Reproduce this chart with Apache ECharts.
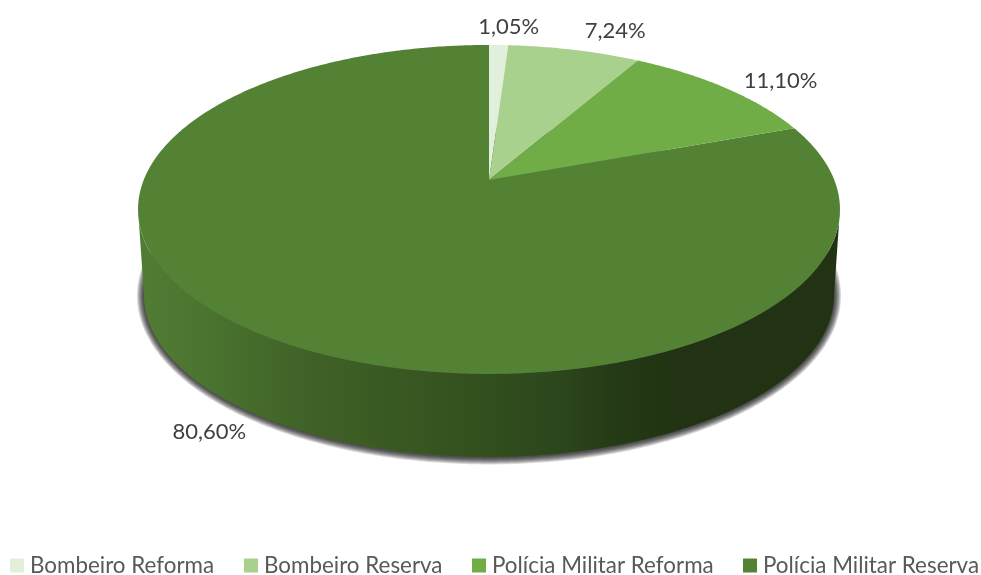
<!DOCTYPE html>
<html><head><meta charset="utf-8">
<style>html,body{margin:0;padding:0;background:#fff}#c{width:981px;height:575px}</style>
<script src="https://cdn.jsdelivr.net/npm/echarts@6/dist/echarts.min.js"></script>
</head><body><div id="c"></div>
<script>
const categories = ['Bombeiro Reforma','Bombeiro Reserva','Polícia Militar Reforma','Polícia Militar Reserva'];
const values = [1.05, 7.24, 11.10, 80.60];
const colors = ['#e2efda','#a9d18e','#70ad47','#548235'];
const legendLefts = [10, 244, 472, 743];
const labelOffsets = [[10,-18],[41,-19],[55,-7],[-48,99]];

// perspective disc: apex, half axes, foreshortening, extrusion
const apexX = 489, apexY = 180, axisU = 345.3, axisV = 159.2, persp = 0.179;
const depthY = 86.3, depthScale = 0.983;
const shadowSteps = [7,6,5,4,3,2,1], shadowMidY = 295.3, shadowRx = 345, shadowRy = 161, shadowDrop = 0.5;
const total = values.reduce((a,b)=>a+b,0);

function project(theta, lower) {
  const u = Math.sin(theta), v = -Math.cos(theta), w = 1 - persp*v;
  const s = lower ? depthScale : 1;
  return [apexX + s*axisU*u/w, apexY + (lower?depthY:0) + s*axisV*v/w];
}
function arc(t0, t1, lower) {
  const n = Math.max(2, Math.ceil(Math.abs(t1-t0)/0.01)), pts = [];
  for (let i=0;i<=n;i++) pts.push(project(t0+(t1-t0)*i/n, lower));
  return pts;
}
const sideGradient = {type:'linear',x:0,y:0,x2:1,y2:0,colorStops:[
  {offset:0,color:'#527c34'},{offset:0.08,color:'#4c7630'},{offset:0.14,color:'#476e2d'},{offset:0.25,color:'#3f6126'},
  {offset:0.5,color:'#324f1e'},{offset:0.6,color:'#2c461c'},{offset:0.69,color:'#243916'},{offset:0.77,color:'#213312'},{offset:1,color:'#213312'}]};
const visFrom = Math.acos(-persp), visTo = 2*Math.PI - visFrom;

function renderSlice(params, api) {
  const startPct = api.value(0), val = api.value(1), i = params.seriesIndex;
  const t0 = startPct/total*2*Math.PI, t1 = (startPct+val)/total*2*Math.PI;
  const children = [];
  const a = Math.max(t0, visFrom), b = Math.min(t1, visTo);
  if (b > a) {
    shadowSteps.forEach(d=>{
      const halo = arc(0,2*Math.PI,true).map(p=>[
        apexX+(p[0]-apexX)*(1+d/shadowRx),
        shadowMidY+(p[1]-shadowMidY)*(1+d/shadowRy)+shadowDrop]);
      children.push({type:'polygon',shape:{points:halo},style:{fill:'rgba(0,0,0,0.15)'}});
    });
    children.push({type:'polygon',
      shape:{points:arc(a,b,false).concat(arc(b,a,true))},
      style:{fill:sideGradient}});
  }
  children.push({type:'polygon',
    shape:{points:[[apexX,apexY]].concat(arc(t0,t1,false))},
    style:{fill:colors[i]}});
  const edge = project((t0+t1)/2,false), off = labelOffsets[i];
  children.push({type:'text',
    style:{text:val.toFixed(2).replace('.',',')+'%',x:edge[0]+off[0],y:edge[1]+off[1],
      align:'center',verticalAlign:'middle',fill:'#404040',fontFamily:'Lato',fontSize:22}});
  return {type:'group',children};
}
let cum = 0;
const series = categories.map((name,i)=>{
  const start = cum; cum += values[i];
  return {type:'custom',name,coordinateSystem:'none',renderItem:renderSlice,z:i===3?1:2,
    itemStyle:{color:colors[i]},data:[[start,values[i]]],animation:false,silent:true};
});
const chart = echarts.init(document.getElementById('c'),null,{renderer:'canvas'});
chart.setOption({
  animation:false,
  backgroundColor:'#fff',
  legend:categories.map((name,i)=>({
    data:[{name,icon:'rect'}],left:legendLefts[i],top:554.5,itemWidth:14,itemHeight:14,itemGap:6,
    selectedMode:false,textStyle:{fontFamily:'Lato',fontSize:22.4,color:'#595959',padding:[0,0,0,1]},padding:[0,0,0,0]
  })),
  series
});
</script></body></html>
